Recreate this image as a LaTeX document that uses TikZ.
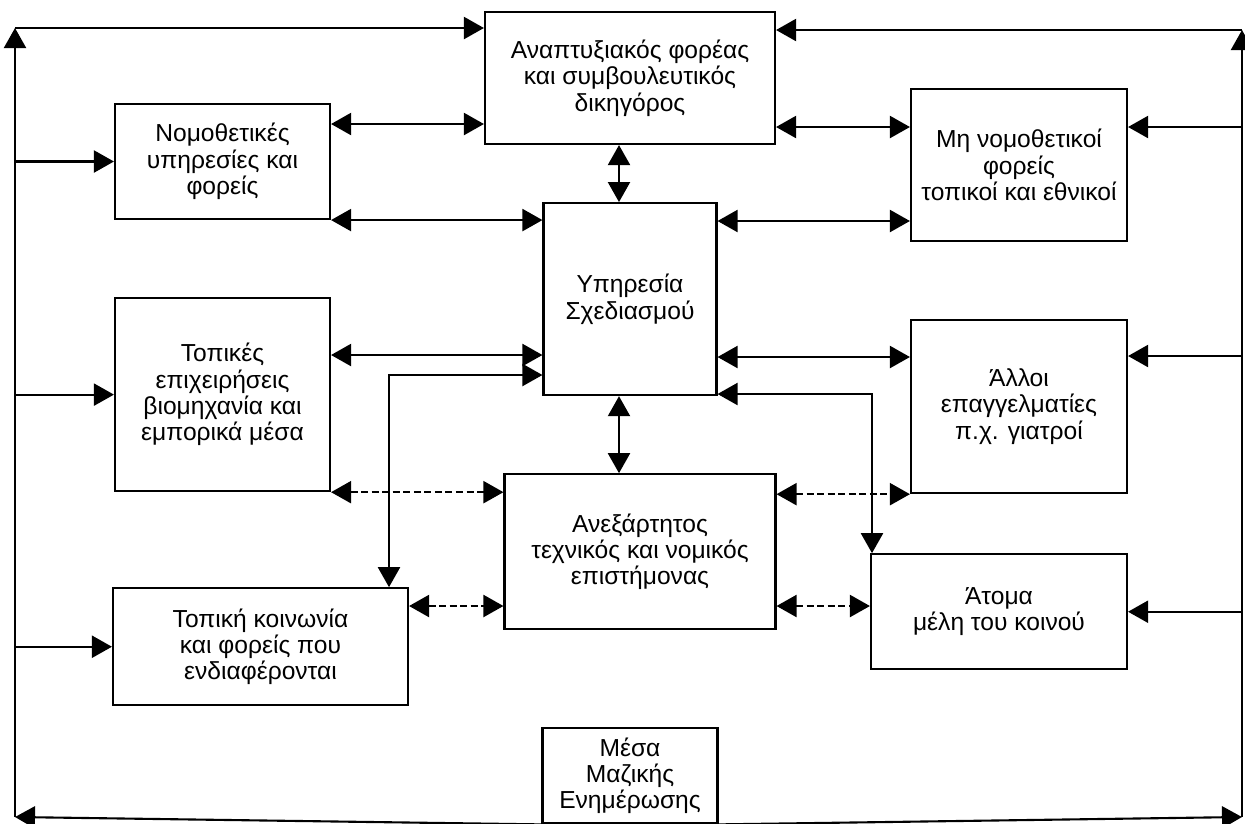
\documentclass[tikz,border=0pt]{standalone}
\usepackage{fontspec}
\setmainfont{Liberation Sans}
\usetikzlibrary{positioning,arrows.meta}
\tikzset{
>={Triangle[length=0.4cm,width=0.44cm]},
node distance=1.5cm,
}

\begin{document}
\begin{tikzpicture}
    [x=0.2mm, y=-0.2mm,
    line width=1.2pt,
    block/.style={draw, rectangle, align=center, inner sep=1pt,
        font=\fontsize{14}{15}\selectfont},
    weak/.style={dash pattern=on 4pt off 2pt}
    ]

    \useasboundingbox (0,0) rectangle (1245,823);

    \node [block, minimum width=5.8cm, minimum height=2.64cm] (dev) at (630,78)
    {
        Αναπτυξιακός φορέας
        \\
        και συμβουλευτικός
        \\
        δικηγόρος
    };

    \node [block, minimum width=3.46cm, minimum height=3.84cm] (plan) [below=1.14cm of dev]
    {
        Υπηρεσία
        \\
        Σχεδιασμού
    };

    \node [block, minimum width=5.42cm, minimum height=3.1cm] (expert) [below=1.54cm of plan, xshift=0.2cm]
    {
        Ανεξάρτητος
        \\
        τεχνικός και νομικός
        \\
        επιστήμονας
    };

    \node [block, minimum width=3.5cm, minimum height=1.9cm] (media) [below=1.94cm of expert, xshift=-0.2cm]
    {
        Μέσα
        \\
        Μαζικής
        \\
        Ενημέρωσης
    };

    \node [block, minimum width=4.3cm, minimum height=2.3cm] (legis) at (222.5,161.5)
    {
        Νομοθετικές
        \\
        υπηρεσίες και
        \\
        φορείς
    };

    \node [block, minimum width=4.3cm, minimum height=3.86cm] (business) [below=1.54cm of legis]
    {
        Τοπικές
        \\
        επιχειρήσεις
        \\
        βιομηχανία και
        \\
        εμπορικά μέσα
    };

    \node [block, minimum width=5.9cm, minimum height=2.34cm] (community) [below=1.9cm of business, xshift=0.76cm]
    {
        Τοπική κοινωνία
        \\
        και φορείς που
        \\
        ενδιαφέρονται
    };

    \node [block, minimum width=4.32cm, minimum height=3.04cm] (nonleg) at (1019,165)
    {
        Μη νομοθετικοί
        \\
        φορείς
        \\
        τοπικοί και εθνικοί
    };

    \node [block, minimum width=4.32cm, minimum height=3.46cm] (prof) [below=1.54cm of nonleg]
    {
        Άλλοι
        \\
        επαγγελματίες
        \\
        π.χ. γιατροί
    };

    \node [block, minimum width=5.12cm, minimum height=2.3cm] (citizens) [below=1.18cm of prof, xshift=-0.4cm]
    {
        Άτομα
        \\
        μέλη του κοινού
    };

    \coordinate (tl) at (15,28);
    \coordinate (tr) at (1242,30);
    \coordinate (bl) at (15,817);
    \coordinate (br) at (1242,817);

    \draw[<->] (legis.east |- 0,124) -- (dev.west |- 0,124);
    \draw[<->] (legis.south east) -- (plan.west |- legis.south east);
    \draw[<->] (dev.east |- 0,127) -- (nonleg.west |- 0,127);
    \draw[<->] (plan.east |- 0,221) -- (nonleg.west |- 0,221);
    \draw[<->] (dev.south -| 619,0) -- (plan.north -| 619,0);
    \draw[<->] (plan.south -| 619,0) -- (expert.north -| 619,0);
    \draw[<->] (business.east |- 0,355) -- (plan.west |- 0,355);
    \draw[<->] (plan.west |- 0,375) -| (community.north -| 389,0);
    \draw[<->] (plan.east |- 0,357) -- (prof.west |- 0,357);
    \draw[<->] (plan.east |- 0,394) -| (citizens.north -| 872,0);
    \draw[<->, weak] (business.south east) -- (expert.west |- business.south east);
    \draw[<->, weak] (community.east |- 0,606) -- (expert.west |- 0,606);
    \draw[<->, weak] (expert.east |- prof.south west) -- (prof.south west);
    \draw[<->, weak] (expert.east |- 0,606) -- (citizens.west |- 0,606);

    \draw[->] (media.south west) -- (bl);
    \draw[->] (bl) -- (tl);
    \draw[->] (tl) -- (dev.west |- tl);
    \draw[->] (media.south east) -- (br);
    \draw[->] (br) -- (tr);
    \draw[->] (tr) -- (dev.east |- tr);
    \draw[->] (legis.west -| bl) -- (legis.west);
    \draw[->] (business.west -| bl) -- (business.west);
    \draw[->] (community.west -| bl) -- (community.west);
    \draw[->] (br |- 0,127) -- (nonleg.east |- 0,127);
    \draw[->] (br |- 0,356) -- (prof.east |- 0,356);
    \draw[->] (citizens.east -| br) -- (citizens.east);

\end{tikzpicture}
\end{document}
